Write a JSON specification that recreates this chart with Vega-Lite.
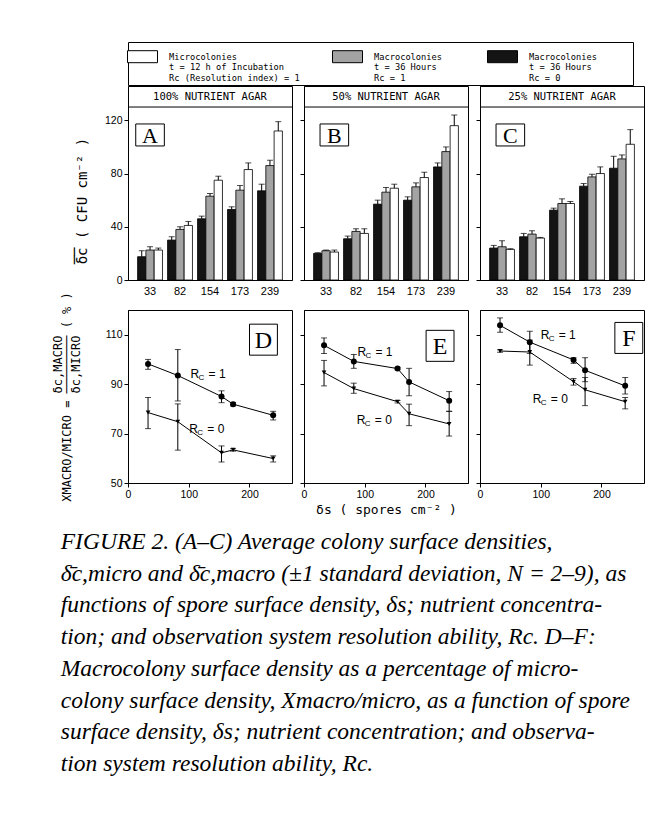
{
  "$schema": "https://vega.github.io/schema/vega-lite/v6.json",
  "background": "white",
  "padding": {"left": 50, "top": 41, "right": 10, "bottom": 10},
  "bounds": "flush",
  "columns": 3,
  "spacing": {"row": 30, "column": 12},
  "title": {
    "text": [
      "FIGURE 2. (A–C) Average colony surface densities,",
      "δ̄c,micro and δ̄c,macro (±1 standard deviation, N = 2–9), as",
      "functions of spore surface density, δs; nutrient concentra-",
      "tion; and observation system resolution ability, Rc. D–F:",
      "Macrocolony surface density as a percentage of micro-",
      "colony surface density, Xmacro/micro, as a function of spore",
      "surface density, δs; nutrient concentration; and observa-",
      "tion system resolution ability, Rc."
    ],
    "orient": "bottom", "anchor": "start", "frame": "bounds",
    "font": "Liberation Serif", "fontStyle": "italic", "fontWeight": "normal",
    "fontSize": 23.5, "lineHeight": 31.7, "offset": 13, "dx": 10, "color": "black"
  },
  "config": {
    "view": {"stroke": "black", "strokeWidth": 1},
    "font": "Liberation Sans",
    "axis": {
      "domainColor": "black", "tickColor": "black", "labelColor": "black", "titleColor": "black",
      "grid": false, "labelOverlap": false, "labelFlush": false,
      "labelFont": "Liberation Sans", "labelFontSize": 10.5,
      "titleFont": "DejaVu Sans Mono", "titleFontWeight": "normal"
    }
  },
  "datasets": {
    "bars": [
      {"agar": "100%", "conc": "33", "series": "macro0", "value": 17.5, "err": 22},
      {"agar": "100%", "conc": "33", "series": "macro1", "value": 22.5, "err": 25},
      {"agar": "100%", "conc": "33", "series": "micro", "value": 22.5, "err": 24},
      {"agar": "100%", "conc": "82", "series": "macro0", "value": 30, "err": 32.5},
      {"agar": "100%", "conc": "82", "series": "macro1", "value": 38, "err": 40},
      {"agar": "100%", "conc": "82", "series": "micro", "value": 41, "err": 44},
      {"agar": "100%", "conc": "154", "series": "macro0", "value": 46, "err": 48},
      {"agar": "100%", "conc": "154", "series": "macro1", "value": 63, "err": 65},
      {"agar": "100%", "conc": "154", "series": "micro", "value": 75, "err": 78},
      {"agar": "100%", "conc": "173", "series": "macro0", "value": 53, "err": 55},
      {"agar": "100%", "conc": "173", "series": "macro1", "value": 67.5, "err": 71},
      {"agar": "100%", "conc": "173", "series": "micro", "value": 83, "err": 88},
      {"agar": "100%", "conc": "239", "series": "macro0", "value": 67, "err": 72},
      {"agar": "100%", "conc": "239", "series": "macro1", "value": 86, "err": 90},
      {"agar": "100%", "conc": "239", "series": "micro", "value": 112, "err": 119},
      {"agar": "50%", "conc": "33", "series": "macro0", "value": 20, "err": 20.5},
      {"agar": "50%", "conc": "33", "series": "macro1", "value": 22, "err": 22.5},
      {"agar": "50%", "conc": "33", "series": "micro", "value": 21, "err": 22.5},
      {"agar": "50%", "conc": "82", "series": "macro0", "value": 31, "err": 33},
      {"agar": "50%", "conc": "82", "series": "macro1", "value": 36.5, "err": 38.5},
      {"agar": "50%", "conc": "82", "series": "micro", "value": 35, "err": 38.5},
      {"agar": "50%", "conc": "154", "series": "macro0", "value": 57, "err": 60},
      {"agar": "50%", "conc": "154", "series": "macro1", "value": 66, "err": 69.5},
      {"agar": "50%", "conc": "154", "series": "micro", "value": 69, "err": 72},
      {"agar": "50%", "conc": "173", "series": "macro0", "value": 60, "err": 62.5},
      {"agar": "50%", "conc": "173", "series": "macro1", "value": 70, "err": 73},
      {"agar": "50%", "conc": "173", "series": "micro", "value": 77, "err": 81},
      {"agar": "50%", "conc": "239", "series": "macro0", "value": 85, "err": 88},
      {"agar": "50%", "conc": "239", "series": "macro1", "value": 96.5, "err": 100},
      {"agar": "50%", "conc": "239", "series": "micro", "value": 116, "err": 124},
      {"agar": "25%", "conc": "33", "series": "macro0", "value": 24, "err": 26},
      {"agar": "25%", "conc": "33", "series": "macro1", "value": 25, "err": 29.5},
      {"agar": "25%", "conc": "33", "series": "micro", "value": 23, "err": 23.5},
      {"agar": "25%", "conc": "82", "series": "macro0", "value": 32.5, "err": 35},
      {"agar": "25%", "conc": "82", "series": "macro1", "value": 34.5, "err": 37},
      {"agar": "25%", "conc": "82", "series": "micro", "value": 31.5, "err": 32},
      {"agar": "25%", "conc": "154", "series": "macro0", "value": 52.5, "err": 54},
      {"agar": "25%", "conc": "154", "series": "macro1", "value": 57.5, "err": 61},
      {"agar": "25%", "conc": "154", "series": "micro", "value": 57.5, "err": 59},
      {"agar": "25%", "conc": "173", "series": "macro0", "value": 70.5, "err": 72.5},
      {"agar": "25%", "conc": "173", "series": "macro1", "value": 77.5, "err": 79.5},
      {"agar": "25%", "conc": "173", "series": "micro", "value": 80, "err": 85},
      {"agar": "25%", "conc": "239", "series": "macro0", "value": 84, "err": 93},
      {"agar": "25%", "conc": "239", "series": "macro1", "value": 91, "err": 94},
      {"agar": "25%", "conc": "239", "series": "micro", "value": 102, "err": 113}
    ],
    "ratio": [
      {"panel": "D", "x": 33, "rc": "1", "value": 98.2, "lo": 96, "hi": 100},
      {"panel": "D", "x": 82, "rc": "1", "value": 93.5, "lo": 83.2, "hi": 104},
      {"panel": "D", "x": 154, "rc": "1", "value": 85, "lo": 82.5, "hi": 87.3},
      {"panel": "D", "x": 173, "rc": "1", "value": 81.9, "lo": 81.2, "hi": 82.6},
      {"panel": "D", "x": 239, "rc": "1", "value": 77.4, "lo": 75.5, "hi": 79},
      {"panel": "D", "x": 33, "rc": "0", "value": 78.5, "lo": 72, "hi": 84.6},
      {"panel": "D", "x": 82, "rc": "0", "value": 74.8, "lo": 63.3, "hi": 82},
      {"panel": "D", "x": 154, "rc": "0", "value": 62.2, "lo": 58.5, "hi": 65},
      {"panel": "D", "x": 173, "rc": "0", "value": 63.4, "lo": 62.9, "hi": 63.9},
      {"panel": "D", "x": 239, "rc": "0", "value": 59.9, "lo": 58.5, "hi": 61},
      {"panel": "E", "x": 33, "rc": "1", "value": 105.7, "lo": 102.4, "hi": 108.7},
      {"panel": "E", "x": 82, "rc": "1", "value": 99.2, "lo": 96.4, "hi": 102},
      {"panel": "E", "x": 154, "rc": "1", "value": 96.3, "lo": 95.8, "hi": 96.8},
      {"panel": "E", "x": 173, "rc": "1", "value": 90.9, "lo": 85.3, "hi": 96.4},
      {"panel": "E", "x": 239, "rc": "1", "value": 83.3, "lo": 79, "hi": 87},
      {"panel": "E", "x": 33, "rc": "0", "value": 94.7, "lo": 89.3, "hi": 99.6},
      {"panel": "E", "x": 82, "rc": "0", "value": 88.2, "lo": 86.3, "hi": 90.4},
      {"panel": "E", "x": 154, "rc": "0", "value": 82.9, "lo": 82.4, "hi": 83.4},
      {"panel": "E", "x": 173, "rc": "0", "value": 78, "lo": 73.2, "hi": 81.9},
      {"panel": "E", "x": 239, "rc": "0", "value": 73.9, "lo": 69, "hi": 79},
      {"panel": "F", "x": 33, "rc": "1", "value": 113.8, "lo": 111, "hi": 116.8},
      {"panel": "F", "x": 82, "rc": "1", "value": 107, "lo": 102.4, "hi": 111.4},
      {"panel": "F", "x": 154, "rc": "1", "value": 99.8, "lo": 98.4, "hi": 100.7},
      {"panel": "F", "x": 173, "rc": "1", "value": 95.6, "lo": 91, "hi": 100.7},
      {"panel": "F", "x": 239, "rc": "1", "value": 89.3, "lo": 86, "hi": 92.7},
      {"panel": "F", "x": 33, "rc": "0", "value": 103.4, "lo": 102.9, "hi": 103.9},
      {"panel": "F", "x": 82, "rc": "0", "value": 103, "lo": 97.7, "hi": 107.8},
      {"panel": "F", "x": 154, "rc": "0", "value": 91, "lo": 89.6, "hi": 92.3},
      {"panel": "F", "x": 173, "rc": "0", "value": 87.7, "lo": 81.3, "hi": 92.7},
      {"panel": "F", "x": 239, "rc": "0", "value": 82.9, "lo": 80, "hi": 84.6}
    ]
  },
  "resolve": {"scale": {"fill": "shared"}},
  "concat": [
    {
      "width": 164, "height": 194,
      "layer": [
        {
          "data": {"name": "bars"}, "transform": [{"filter": "datum.agar == '100%'"}],
          "mark": {"type": "bar", "stroke": "black", "strokeWidth": 0.8},
          "encoding": {
            "x": {"field": "conc", "type": "ordinal", "sort": ["33", "82", "154", "173", "239"],
              "scale": {"paddingInner": 0.17, "paddingOuter": 0.32},
              "axis": {"title": null, "ticks": false, "labelAngle": 0, "labelPadding": 5, "labelFontSize": 11}},
            "xOffset": {"field": "series", "sort": ["macro0", "macro1", "micro"]},
            "y": {"field": "value", "type": "quantitative", "scale": {"domain": [0, 145.8], "nice": false},
              "axis": {"values": [0, 20, 40, 60, 80, 100, 120], "labelOverlap": false,
                "tickSize": 4, "labelPadding": 2,
                "title": ["──\u00a0\u00a0\u00a0\u00a0\u00a0\u00a0\u00a0\u00a0\u00a0\u00a0\u00a0\u00a0\u00a0\u00a0\u00a0\u00a0⠀", "δc\u00a0(\u00a0CFU\u00a0cm⁻²\u00a0)\u00a0\u00a0\u00a0⠀"],
                "titleFontSize": 14, "titleLineHeight": 8, "titlePadding": 15}},
            "fill": {"field": "series", "scale": {"domain": ["micro", "macro1", "macro0"], "range": ["#ffffff", "#a3a3a3", "#141414"]},
              "legend": {"orient": "top", "direction": "horizontal", "title": null,
                "symbolType": "M-1.25,-0.5H1.25V0.5H-1.25Z", "symbolSize": 576,
                "symbolStrokeColor": "black", "symbolStrokeWidth": 1,
                "labelFont": "DejaVu Sans Mono", "labelFontSize": 8.7, "labelLimit": 400, "labelOffset": 14,
                "columnPadding": 30, "rowPadding": 0, "strokeColor": "black", "padding": 2, "offset": 0,
                "labelExpr": "datum.value == 'micro' ? ['Microcolonies', 't = 12 h of Incubation', 'Rc (Resolution index) = 1'] : datum.value == 'macro1' ? ['Macrocolonies\u00a0⠀', 't = 36 Hours', 'Rc = 1'] : ['Macrocolonies\u00a0\u00a0\u00a0\u00a0\u00a0⠀', 't = 36 Hours', 'Rc = 0']"}}
          }
        },
        {
          "data": {"name": "bars"}, "transform": [{"filter": "datum.agar == '100%'"}],
          "mark": {"type": "rule", "color": "black", "strokeWidth": 1},
          "encoding": {"x": {"field": "conc", "type": "ordinal", "sort": ["33", "82", "154", "173", "239"]},
            "xOffset": {"field": "series", "sort": ["macro0", "macro1", "micro"]},
            "y": {"field": "value", "type": "quantitative"}, "y2": {"field": "err"}}
        },
        {
          "data": {"name": "bars"}, "transform": [{"filter": "datum.agar == '100%'"}],
          "mark": {"type": "tick", "orient": "horizontal", "size": 6, "thickness": 1, "color": "black"},
          "encoding": {"x": {"field": "conc", "type": "ordinal", "sort": ["33", "82", "154", "173", "239"]},
            "xOffset": {"field": "series", "sort": ["macro0", "macro1", "micro"]},
            "y": {"field": "err", "type": "quantitative"}}
        },
        {
          "data": {"values": [{"t": "100% NUTRIENT AGAR"}]},
          "mark": {"type": "rule", "color": "black", "strokeWidth": 1},
          "encoding": {"y": {"datum": 130, "type": "quantitative"}}
        },
        {
          "data": {"values": [{"t": "100% NUTRIENT AGAR"}]},
          "mark": {"type": "text", "font": "DejaVu Sans Mono", "fontSize": 10.5, "baseline": "middle"},
          "encoding": {"y": {"datum": 137.9, "type": "quantitative"}, "text": {"field": "t"}}
        },
        {
          "data": {"values": [{"t": "A"}]},
          "mark": {"type": "point", "shape": "M-1.3,-1H1.3V1H-1.3Z", "size": 484, "filled": true, "fill": "white", "stroke": "black", "strokeWidth": 1, "opacity": 1},
          "encoding": {"x": {"datum": "33"}, "y": {"datum": 109, "type": "quantitative"}}
        },
        {
          "data": {"values": [{"t": "A"}]},
          "mark": {"type": "text", "font": "Liberation Serif", "fontSize": 22, "baseline": "middle", "dy": 1},
          "encoding": {"x": {"datum": "33"}, "y": {"datum": 109, "type": "quantitative"}, "text": {"field": "t"}}
        }
      ]
    },
    {
      "width": 164, "height": 194,
      "layer": [
        {
          "data": {"name": "bars"}, "transform": [{"filter": "datum.agar == '50%'"}],
          "mark": {"type": "bar", "stroke": "black", "strokeWidth": 0.8},
          "encoding": {
            "x": {"field": "conc", "type": "ordinal", "sort": ["33", "82", "154", "173", "239"],
              "scale": {"paddingInner": 0.17, "paddingOuter": 0.32},
              "axis": {"title": null, "ticks": false, "labelAngle": 0, "labelPadding": 5, "labelFontSize": 11}},
            "xOffset": {"field": "series", "sort": ["macro0", "macro1", "micro"]},
            "y": {"field": "value", "type": "quantitative", "scale": {"domain": [0, 145.8], "nice": false},
              "axis": {"values": [0, 20, 40, 60, 80, 100, 120], "labels": false, "tickSize": 4, "title": null}},
            "fill": {"field": "series", "scale": {"domain": ["micro", "macro1", "macro0"], "range": ["#ffffff", "#a3a3a3", "#141414"]}}
          }
        },
        {
          "data": {"name": "bars"}, "transform": [{"filter": "datum.agar == '50%'"}],
          "mark": {"type": "rule", "color": "black", "strokeWidth": 1},
          "encoding": {"x": {"field": "conc", "type": "ordinal", "sort": ["33", "82", "154", "173", "239"]},
            "xOffset": {"field": "series", "sort": ["macro0", "macro1", "micro"]},
            "y": {"field": "value", "type": "quantitative"}, "y2": {"field": "err"}}
        },
        {
          "data": {"name": "bars"}, "transform": [{"filter": "datum.agar == '50%'"}],
          "mark": {"type": "tick", "orient": "horizontal", "size": 6, "thickness": 1, "color": "black"},
          "encoding": {"x": {"field": "conc", "type": "ordinal", "sort": ["33", "82", "154", "173", "239"]},
            "xOffset": {"field": "series", "sort": ["macro0", "macro1", "micro"]},
            "y": {"field": "err", "type": "quantitative"}}
        },
        {
          "data": {"values": [{"t": "50% NUTRIENT AGAR"}]},
          "mark": {"type": "rule", "color": "black", "strokeWidth": 1},
          "encoding": {"y": {"datum": 130, "type": "quantitative"}}
        },
        {
          "data": {"values": [{"t": "50% NUTRIENT AGAR"}]},
          "mark": {"type": "text", "font": "DejaVu Sans Mono", "fontSize": 10.5, "baseline": "middle"},
          "encoding": {"y": {"datum": 137.9, "type": "quantitative"}, "text": {"field": "t"}}
        },
        {
          "data": {"values": [{"t": "B"}]},
          "mark": {"type": "point", "shape": "M-1.3,-1H1.3V1H-1.3Z", "size": 484, "filled": true, "fill": "white", "stroke": "black", "strokeWidth": 1, "opacity": 1},
          "encoding": {"x": {"datum": "33"}, "xOffset": {"datum": "micro"}, "y": {"datum": 109, "type": "quantitative"}}
        },
        {
          "data": {"values": [{"t": "B"}]},
          "mark": {"type": "text", "font": "Liberation Serif", "fontSize": 22, "baseline": "middle", "dy": 1},
          "encoding": {"x": {"datum": "33"}, "xOffset": {"datum": "micro"}, "y": {"datum": 109, "type": "quantitative"}, "text": {"field": "t"}}
        }
      ]
    },
    {
      "width": 164, "height": 194,
      "layer": [
        {
          "data": {"name": "bars"}, "transform": [{"filter": "datum.agar == '25%'"}],
          "mark": {"type": "bar", "stroke": "black", "strokeWidth": 0.8},
          "encoding": {
            "x": {"field": "conc", "type": "ordinal", "sort": ["33", "82", "154", "173", "239"],
              "scale": {"paddingInner": 0.17, "paddingOuter": 0.32},
              "axis": {"title": null, "ticks": false, "labelAngle": 0, "labelPadding": 5, "labelFontSize": 11}},
            "xOffset": {"field": "series", "sort": ["macro0", "macro1", "micro"]},
            "y": {"field": "value", "type": "quantitative", "scale": {"domain": [0, 145.8], "nice": false},
              "axis": {"values": [0, 20, 40, 60, 80, 100, 120], "labels": false, "tickSize": 4, "title": null}},
            "fill": {"field": "series", "scale": {"domain": ["micro", "macro1", "macro0"], "range": ["#ffffff", "#a3a3a3", "#141414"]}}
          }
        },
        {
          "data": {"name": "bars"}, "transform": [{"filter": "datum.agar == '25%'"}],
          "mark": {"type": "rule", "color": "black", "strokeWidth": 1},
          "encoding": {"x": {"field": "conc", "type": "ordinal", "sort": ["33", "82", "154", "173", "239"]},
            "xOffset": {"field": "series", "sort": ["macro0", "macro1", "micro"]},
            "y": {"field": "value", "type": "quantitative"}, "y2": {"field": "err"}}
        },
        {
          "data": {"name": "bars"}, "transform": [{"filter": "datum.agar == '25%'"}],
          "mark": {"type": "tick", "orient": "horizontal", "size": 6, "thickness": 1, "color": "black"},
          "encoding": {"x": {"field": "conc", "type": "ordinal", "sort": ["33", "82", "154", "173", "239"]},
            "xOffset": {"field": "series", "sort": ["macro0", "macro1", "micro"]},
            "y": {"field": "err", "type": "quantitative"}}
        },
        {
          "data": {"values": [{"t": "25% NUTRIENT AGAR"}]},
          "mark": {"type": "rule", "color": "black", "strokeWidth": 1},
          "encoding": {"y": {"datum": 130, "type": "quantitative"}}
        },
        {
          "data": {"values": [{"t": "25% NUTRIENT AGAR"}]},
          "mark": {"type": "text", "font": "DejaVu Sans Mono", "fontSize": 10.5, "baseline": "middle"},
          "encoding": {"y": {"datum": 137.9, "type": "quantitative"}, "text": {"field": "t"}}
        },
        {
          "data": {"values": [{"t": "C"}]},
          "mark": {"type": "point", "shape": "M-1.3,-1H1.3V1H-1.3Z", "size": 484, "filled": true, "fill": "white", "stroke": "black", "strokeWidth": 1, "opacity": 1},
          "encoding": {"x": {"datum": "33"}, "xOffset": {"datum": "micro"}, "y": {"datum": 109, "type": "quantitative"}}
        },
        {
          "data": {"values": [{"t": "C"}]},
          "mark": {"type": "text", "font": "Liberation Serif", "fontSize": 22, "baseline": "middle", "dy": 1},
          "encoding": {"x": {"datum": "33"}, "xOffset": {"datum": "micro"}, "y": {"datum": 109, "type": "quantitative"}, "text": {"field": "t"}}
        }
      ]
    },
    {
      "width": 164, "height": 173,
      "layer": [
        {
          "data": {"name": "ratio"}, "transform": [{"filter": "datum.panel == 'D'"}],
          "mark": {"type": "line", "color": "black", "strokeWidth": 1},
          "encoding": {
            "x": {"field": "x", "type": "quantitative", "scale": {"domain": [0, 270], "nice": false},
              "axis": {"values": [0, 50, 100, 150, 200, 250], "labelOverlap": false, "tickSize": 4, "labelPadding": 2, "title": null}},
            "y": {"field": "value", "type": "quantitative", "scale": {"domain": [50, 120], "nice": false},
              "axis": {"values": [50, 60, 70, 80, 90, 100, 110, 120], "labelOverlap": false, "tickSize": 4, "labelPadding": 2,
                "title": ["⠀\u00a0\u00a0\u00a0\u00a0\u00a0\u00a0\u00a0\u00a0\u00a0\u00a0\u00a0\u00a0\u00a0\u00a0δc,MACRO\u00a0\u00a0\u00a0\u00a0\u00a0⠀", "XMACRO/MICRO\u00a0=\u00a0────────\u00a0(\u00a0%\u00a0)", "⠀\u00a0\u00a0\u00a0\u00a0\u00a0\u00a0\u00a0\u00a0\u00a0\u00a0\u00a0\u00a0\u00a0\u00a0δc,MICRO\u00a0\u00a0\u00a0\u00a0\u00a0⠀"],
                "titleFontSize": 12, "titleLineHeight": 9, "titlePadding": 23}},
            "detail": {"field": "rc"}
          }
        },
        {
          "data": {"name": "ratio"}, "transform": [{"filter": "datum.panel == 'D'"}],
          "mark": {"type": "rule", "color": "black", "strokeWidth": 1},
          "encoding": {"x": {"field": "x", "type": "quantitative"}, "y": {"field": "lo", "type": "quantitative"}, "y2": {"field": "hi"}}
        },
        {
          "data": {"name": "ratio"}, "transform": [{"filter": "datum.panel == 'D'"}],
          "mark": {"type": "tick", "orient": "horizontal", "size": 6, "thickness": 1, "color": "black"},
          "encoding": {"x": {"field": "x", "type": "quantitative"}, "y": {"field": "lo", "type": "quantitative"}}
        },
        {
          "data": {"name": "ratio"}, "transform": [{"filter": "datum.panel == 'D'"}],
          "mark": {"type": "tick", "orient": "horizontal", "size": 6, "thickness": 1, "color": "black"},
          "encoding": {"x": {"field": "x", "type": "quantitative"}, "y": {"field": "hi", "type": "quantitative"}}
        },
        {
          "data": {"name": "ratio"}, "transform": [{"filter": "datum.panel == 'D'"}],
          "mark": {"type": "point", "filled": true, "color": "black", "opacity": 1},
          "encoding": {"x": {"field": "x", "type": "quantitative"}, "y": {"field": "value", "type": "quantitative"},
            "shape": {"field": "rc", "scale": {"domain": ["1", "0"], "range": ["circle", "triangle-down"]}, "legend": null},
            "size": {"field": "rc", "scale": {"domain": ["1", "0"], "range": [36, 22]}, "legend": null}}
        },
        {
          "data": {"values": [{"t": "D"}]},
          "mark": {"type": "point", "shape": "M-0.9,-1H0.9V1H-0.9Z", "size": 961, "filled": true, "fill": "white", "stroke": "black", "strokeWidth": 1, "opacity": 1},
          "encoding": {"x": {"datum": 223, "type": "quantitative"}, "y": {"datum": 108, "type": "quantitative"}}
        },
        {
          "data": {"values": [{"t": "D"}]},
          "mark": {"type": "text", "font": "Liberation Serif", "fontSize": 24, "baseline": "middle", "dy": 1},
          "encoding": {"x": {"datum": 223, "type": "quantitative"}, "y": {"datum": 108, "type": "quantitative"}, "text": {"field": "t"}}
        },
        {
          "data": {"values": [{"r": "R", "c": "C", "e": "=  1"}]},
          "encoding": {"x": {"datum": 103, "type": "quantitative"}, "y": {"datum": 94, "type": "quantitative"}},
          "layer": [
            {"mark": {"type": "text", "align": "left", "baseline": "middle", "fontSize": 12}, "encoding": {"text": {"field": "r"}}},
            {"mark": {"type": "text", "align": "left", "baseline": "middle", "fontSize": 8, "dx": 8, "dy": 4}, "encoding": {"text": {"field": "c"}}},
            {"mark": {"type": "text", "align": "left", "baseline": "middle", "fontSize": 12, "dx": 18}, "encoding": {"text": {"field": "e"}}}
          ]
        },
        {
          "data": {"values": [{"r": "R", "c": "C", "e": "=  0"}]},
          "encoding": {"x": {"datum": 101, "type": "quantitative"}, "y": {"datum": 71.8, "type": "quantitative"}},
          "layer": [
            {"mark": {"type": "text", "align": "left", "baseline": "middle", "fontSize": 12}, "encoding": {"text": {"field": "r"}}},
            {"mark": {"type": "text", "align": "left", "baseline": "middle", "fontSize": 8, "dx": 8, "dy": 4}, "encoding": {"text": {"field": "c"}}},
            {"mark": {"type": "text", "align": "left", "baseline": "middle", "fontSize": 12, "dx": 18}, "encoding": {"text": {"field": "e"}}}
          ]
        }
      ]
    },
    {
      "width": 164, "height": 173,
      "layer": [
        {
          "data": {"name": "ratio"}, "transform": [{"filter": "datum.panel == 'E'"}],
          "mark": {"type": "line", "color": "black", "strokeWidth": 1},
          "encoding": {
            "x": {"field": "x", "type": "quantitative", "scale": {"domain": [0, 270], "nice": false},
              "axis": {"values": [0, 50, 100, 150, 200, 250], "labelOverlap": false, "tickSize": 4, "labelPadding": 2,
                "title": "δs\u00a0(\u00a0spores\u00a0cm⁻²\u00a0)", "titleFontSize": 13, "titlePadding": 4}},
            "y": {"field": "value", "type": "quantitative", "scale": {"domain": [50, 120], "nice": false},
              "axis": {"values": [50, 60, 70, 80, 90, 100, 110, 120], "labels": false, "tickSize": 4, "title": null}},
            "detail": {"field": "rc"}
          }
        },
        {
          "data": {"name": "ratio"}, "transform": [{"filter": "datum.panel == 'E'"}],
          "mark": {"type": "rule", "color": "black", "strokeWidth": 1},
          "encoding": {"x": {"field": "x", "type": "quantitative"}, "y": {"field": "lo", "type": "quantitative"}, "y2": {"field": "hi"}}
        },
        {
          "data": {"name": "ratio"}, "transform": [{"filter": "datum.panel == 'E'"}],
          "mark": {"type": "tick", "orient": "horizontal", "size": 6, "thickness": 1, "color": "black"},
          "encoding": {"x": {"field": "x", "type": "quantitative"}, "y": {"field": "lo", "type": "quantitative"}}
        },
        {
          "data": {"name": "ratio"}, "transform": [{"filter": "datum.panel == 'E'"}],
          "mark": {"type": "tick", "orient": "horizontal", "size": 6, "thickness": 1, "color": "black"},
          "encoding": {"x": {"field": "x", "type": "quantitative"}, "y": {"field": "hi", "type": "quantitative"}}
        },
        {
          "data": {"name": "ratio"}, "transform": [{"filter": "datum.panel == 'E'"}],
          "mark": {"type": "point", "filled": true, "color": "black", "opacity": 1},
          "encoding": {"x": {"field": "x", "type": "quantitative"}, "y": {"field": "value", "type": "quantitative"},
            "shape": {"field": "rc", "scale": {"domain": ["1", "0"], "range": ["circle", "triangle-down"]}, "legend": null},
            "size": {"field": "rc", "scale": {"domain": ["1", "0"], "range": [36, 22]}, "legend": null}}
        },
        {
          "data": {"values": [{"t": "E"}]},
          "mark": {"type": "point", "shape": "M-0.9,-1H0.9V1H-0.9Z", "size": 961, "filled": true, "fill": "white", "stroke": "black", "strokeWidth": 1, "opacity": 1},
          "encoding": {"x": {"datum": 224, "type": "quantitative"}, "y": {"datum": 105.5, "type": "quantitative"}}
        },
        {
          "data": {"values": [{"t": "E"}]},
          "mark": {"type": "text", "font": "Liberation Serif", "fontSize": 24, "baseline": "middle", "dy": 1},
          "encoding": {"x": {"datum": 224, "type": "quantitative"}, "y": {"datum": 105.5, "type": "quantitative"}, "text": {"field": "t"}}
        },
        {
          "data": {"values": [{"r": "R", "c": "C", "e": "=  1"}]},
          "encoding": {"x": {"datum": 88, "type": "quantitative"}, "y": {"datum": 103, "type": "quantitative"}},
          "layer": [
            {"mark": {"type": "text", "align": "left", "baseline": "middle", "fontSize": 12}, "encoding": {"text": {"field": "r"}}},
            {"mark": {"type": "text", "align": "left", "baseline": "middle", "fontSize": 8, "dx": 8, "dy": 4}, "encoding": {"text": {"field": "c"}}},
            {"mark": {"type": "text", "align": "left", "baseline": "middle", "fontSize": 12, "dx": 18}, "encoding": {"text": {"field": "e"}}}
          ]
        },
        {
          "data": {"values": [{"r": "R", "c": "C", "e": "=  0"}]},
          "encoding": {"x": {"datum": 87, "type": "quantitative"}, "y": {"datum": 75.5, "type": "quantitative"}},
          "layer": [
            {"mark": {"type": "text", "align": "left", "baseline": "middle", "fontSize": 12}, "encoding": {"text": {"field": "r"}}},
            {"mark": {"type": "text", "align": "left", "baseline": "middle", "fontSize": 8, "dx": 8, "dy": 4}, "encoding": {"text": {"field": "c"}}},
            {"mark": {"type": "text", "align": "left", "baseline": "middle", "fontSize": 12, "dx": 18}, "encoding": {"text": {"field": "e"}}}
          ]
        }
      ]
    },
    {
      "width": 164, "height": 173,
      "layer": [
        {
          "data": {"name": "ratio"}, "transform": [{"filter": "datum.panel == 'F'"}],
          "mark": {"type": "line", "color": "black", "strokeWidth": 1},
          "encoding": {
            "x": {"field": "x", "type": "quantitative", "scale": {"domain": [0, 270], "nice": false},
              "axis": {"values": [0, 50, 100, 150, 200, 250], "labelOverlap": false, "tickSize": 4, "labelPadding": 2, "title": null}},
            "y": {"field": "value", "type": "quantitative", "scale": {"domain": [50, 120], "nice": false},
              "axis": {"values": [50, 60, 70, 80, 90, 100, 110, 120], "labels": false, "tickSize": 4, "title": null}},
            "detail": {"field": "rc"}
          }
        },
        {
          "data": {"name": "ratio"}, "transform": [{"filter": "datum.panel == 'F'"}],
          "mark": {"type": "rule", "color": "black", "strokeWidth": 1},
          "encoding": {"x": {"field": "x", "type": "quantitative"}, "y": {"field": "lo", "type": "quantitative"}, "y2": {"field": "hi"}}
        },
        {
          "data": {"name": "ratio"}, "transform": [{"filter": "datum.panel == 'F'"}],
          "mark": {"type": "tick", "orient": "horizontal", "size": 6, "thickness": 1, "color": "black"},
          "encoding": {"x": {"field": "x", "type": "quantitative"}, "y": {"field": "lo", "type": "quantitative"}}
        },
        {
          "data": {"name": "ratio"}, "transform": [{"filter": "datum.panel == 'F'"}],
          "mark": {"type": "tick", "orient": "horizontal", "size": 6, "thickness": 1, "color": "black"},
          "encoding": {"x": {"field": "x", "type": "quantitative"}, "y": {"field": "hi", "type": "quantitative"}}
        },
        {
          "data": {"name": "ratio"}, "transform": [{"filter": "datum.panel == 'F'"}],
          "mark": {"type": "point", "filled": true, "color": "black", "opacity": 1},
          "encoding": {"x": {"field": "x", "type": "quantitative"}, "y": {"field": "value", "type": "quantitative"},
            "shape": {"field": "rc", "scale": {"domain": ["1", "0"], "range": ["circle", "triangle-down"]}, "legend": null},
            "size": {"field": "rc", "scale": {"domain": ["1", "0"], "range": [36, 22]}, "legend": null}}
        },
        {
          "data": {"values": [{"t": "F"}]},
          "mark": {"type": "point", "shape": "M-0.9,-1H0.9V1H-0.9Z", "size": 961, "filled": true, "fill": "white", "stroke": "black", "strokeWidth": 1, "opacity": 1},
          "encoding": {"x": {"datum": 245, "type": "quantitative"}, "y": {"datum": 108.7, "type": "quantitative"}}
        },
        {
          "data": {"values": [{"t": "F"}]},
          "mark": {"type": "text", "font": "Liberation Serif", "fontSize": 24, "baseline": "middle", "dy": 1},
          "encoding": {"x": {"datum": 245, "type": "quantitative"}, "y": {"datum": 108.7, "type": "quantitative"}, "text": {"field": "t"}}
        },
        {
          "data": {"values": [{"r": "R", "c": "C", "e": "=  1"}]},
          "encoding": {"x": {"datum": 100, "type": "quantitative"}, "y": {"datum": 110, "type": "quantitative"}},
          "layer": [
            {"mark": {"type": "text", "align": "left", "baseline": "middle", "fontSize": 12}, "encoding": {"text": {"field": "r"}}},
            {"mark": {"type": "text", "align": "left", "baseline": "middle", "fontSize": 8, "dx": 8, "dy": 4}, "encoding": {"text": {"field": "c"}}},
            {"mark": {"type": "text", "align": "left", "baseline": "middle", "fontSize": 12, "dx": 18}, "encoding": {"text": {"field": "e"}}}
          ]
        },
        {
          "data": {"values": [{"r": "R", "c": "C", "e": "=  0"}]},
          "encoding": {"x": {"datum": 87, "type": "quantitative"}, "y": {"datum": 84, "type": "quantitative"}},
          "layer": [
            {"mark": {"type": "text", "align": "left", "baseline": "middle", "fontSize": 12}, "encoding": {"text": {"field": "r"}}},
            {"mark": {"type": "text", "align": "left", "baseline": "middle", "fontSize": 8, "dx": 8, "dy": 4}, "encoding": {"text": {"field": "c"}}},
            {"mark": {"type": "text", "align": "left", "baseline": "middle", "fontSize": 12, "dx": 18}, "encoding": {"text": {"field": "e"}}}
          ]
        }
      ]
    }
  ]
}
